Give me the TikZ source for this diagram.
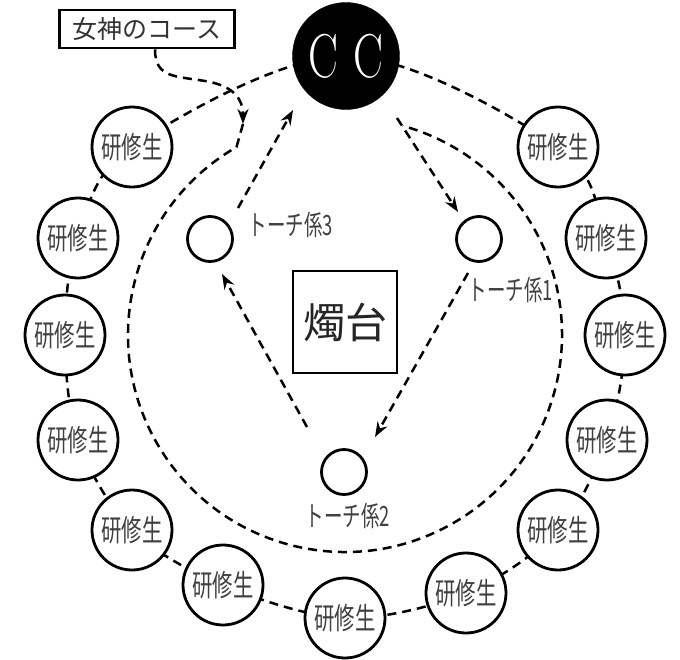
\documentclass[tikz,border=0pt]{standalone}
\usepackage{graphicx}
\usepackage{fontspec}
\newfontfamily\jp{Noto Sans CJK JP}
\newfontfamily\jpc[FakeStretch=0.68]{Noto Sans CJK JP}
\newfontfamily\jpl[FakeStretch=0.66]{Noto Sans CJK JP}
\usetikzlibrary{arrows.meta,calc}
\begin{document}
\begin{tikzpicture}[x=1pt,y=-1pt,
  ln/.style={line width=2.5pt, dash pattern=on 9pt off 6pt},
  arr/.style={ln, -{Stealth[length=15pt,width=11pt]}},
  trainee/.style={circle, draw, line width=2.8pt, fill=white, minimum size=80pt, inner sep=0pt, font=\jpc\fontsize{30}{30}\selectfont, text=black!75},
  torch/.style={circle, draw, line width=2.8pt, fill=white, minimum size=45pt, inner sep=0pt},
  lbl/.style={font=\jpl\fontsize{28}{28}\selectfont, text=black!75, inner sep=0pt},
  boxst/.style={draw, line width=2.6pt, inner sep=0pt},
]
\useasboundingbox (0,0) rectangle (680,659);
% positions
\coordinate (p0) at (346,56);
\coordinate (p1) at (558,147);
\coordinate (p2) at (606,238);
\coordinate (p3) at (625,335);
\coordinate (p4) at (607,440);
\coordinate (p5) at (558,530);
\coordinate (p6) at (466,593);
\coordinate (p7) at (345,618);
\coordinate (p8) at (223,585);
\coordinate (p9) at (132,530);
\coordinate (p10) at (78,440);
\coordinate (p11) at (65,335);
\coordinate (p12) at (78,238);
\coordinate (p13) at (132,147);
\coordinate (ctr) at (345,335);
\coordinate (gtip) at (243,124);
% outer ring
\draw[ln] plot[smooth cycle, tension=0.55] coordinates {(p0) (p1) (p2) (p3) (p4) (p5) (p6) (p7) (p8) (p9) (p10) (p11) (p12) (p13)};
% goddess box and course
\node[boxst, minimum width=175pt, minimum height=38pt, font=\jp\fontsize{25}{25}\selectfont, text=black!80] (goddess) at (147,29) {女神のコース};
\draw[arr] ([xshift=8pt]goddess.south) .. controls (155,78) and (175,76) .. (205,81) .. controls (235,86) and (243,100) .. (gtip);
\draw[ln] (gtip) -- ($(ctr)+(-120:217)$) arc[start angle=-120, end angle=-434.5, radius=217];
% nodes
\node[circle, fill=black, draw=black, minimum size=107pt, inner sep=0pt, text=white, font=\fontsize{62}{62}\selectfont] (CC) at (p0) {\scalebox{0.72}[1]{C\kern22pt C}};
\foreach \i in {1,...,13} {
  \node[trainee] (s\i) at (p\i) {研修生};
}
\node[boxst, minimum width=104pt, minimum height=102pt, font=\jp\fontsize{42}{42}\selectfont, text=black!85] (stand) at (345,322) {燭台};
\node[torch] (t1) at (479,239) {};
\node[torch] (t2) at (344,472) {};
\node[torch] (t3) at (210,239) {};
\node[lbl] (l1) at (511,290) {トーチ係1};
\node[lbl] (l2) at (348,516) {トーチ係2};
\node[lbl] (l3) at (291,225) {トーチ係3};
% relay arrows
\draw[arr] ([shift={(51,62)}]CC.center) -- ([shift={(-21,-27)}]t1.center);
\draw[arr] ([shift={(-11,34)}]t1.center) -- ([shift={(31,-35)}]t2.center);
\draw[arr] ([shift={(-37,-45)}]t2.center) -- ([shift={(12,35)}]t3.center);
\draw[arr] ([shift={(28,-31)}]t3.center) -- ([shift={(-53,54)}]CC.center);
\end{tikzpicture}
\end{document}
